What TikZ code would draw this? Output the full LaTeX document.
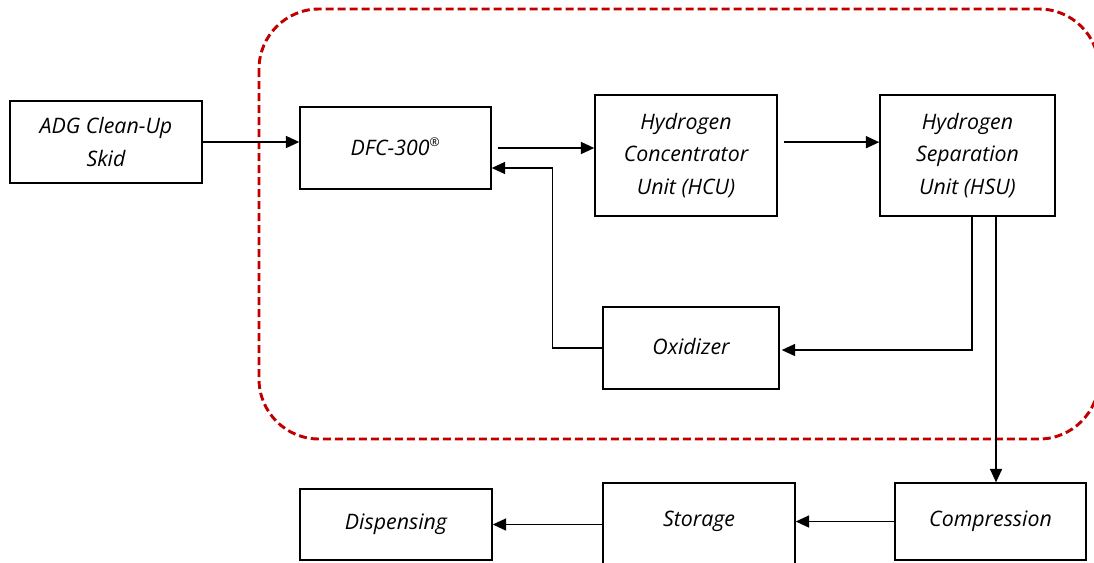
\documentclass[tikz,border=0pt]{standalone}
\usepackage{fontspec}
\setmainfont{Open Sans}
\usetikzlibrary{arrows.meta}
\definecolor{frame}{HTML}{C00000}
\begin{document}
\begin{tikzpicture}[x=0.75pt,y=-0.75pt,
  txt/.style={font=\itshape\fontsize{16}{24.5}\selectfont},
  box/.style={draw=black, line width=1.1pt, rectangle, inner sep=0pt, align=center, txt},
  arr/.style={line width=1.1pt, -{Triangle[length=10pt,width=9pt]}},
  dashframe/.style={draw=frame, line width=2.2pt, dash pattern=on 6pt off 3pt, rounded corners=45pt}]
\useasboundingbox (0,0) rectangle (1094,562);
\draw[dashframe] (259,9) rectangle (1099,439);
\node[box, minimum width=144pt, minimum height=61.5pt] (adg) at (106,142) {ADG Clean-Up\\Skid};
\node[box, minimum width=143.25pt, minimum height=61.5pt] (dfc) at (395.5,148) {\raisebox{2pt}{DFC-300\textsuperscript{\fontsize{9}{9}\selectfont\textregistered}}};
\node[box, minimum width=136.5pt, minimum height=90.75pt] (hcu) at (686,155.5) {Hydrogen\\Concentrator\\Unit (HCU)};
\node[box, minimum width=131.25pt, minimum height=90.75pt] (hsu) at (967.5,155.5) {Hydrogen\\Separation\\Unit (HSU)};
\node[box, minimum width=132pt, minimum height=61.5pt] (ox) at (691,348) {\raisebox{3pt}{Oxidizer}};
\node[box, minimum width=143.25pt, minimum height=57.75pt] (comp) at (990.5,521.5) {Compression};
\node[box, minimum width=144pt, minimum height=87.75pt, label={[txt, yshift=15pt]center:Storage}] (sto) at (699,541.5) {};
\node[box, minimum width=144pt, minimum height=53.25pt] (disp) at (396,524.5) {Dispensing};
\draw[arr] (adg.east) -- (adg.east -| dfc.west);
\draw[arr] ([xshift=4.5pt]dfc.east) -- (dfc.east -| hcu.west);
\draw[arr] (ox.west) -- ++(-50,0) |- ([yshift=-15pt]dfc.east);
\draw[arr] ([xshift=4.5pt,yshift=10pt]hcu.east) -- ([yshift=10pt]hcu.east -| hsu.west);
\draw[arr] ([xshift=3.4pt]hsu.south) |- ([xshift=1.5pt,yshift=-1.5pt]ox.east);
\draw[arr] ([xshift=21.4pt]hsu.south) -- ([xshift=21.4pt]hsu.south |- comp.north);
\draw[arr] (comp.west) -- (comp.west -| sto.east);
\draw[arr] (disp.east -| sto.west) -- (disp.east);
\end{tikzpicture}
\end{document}
